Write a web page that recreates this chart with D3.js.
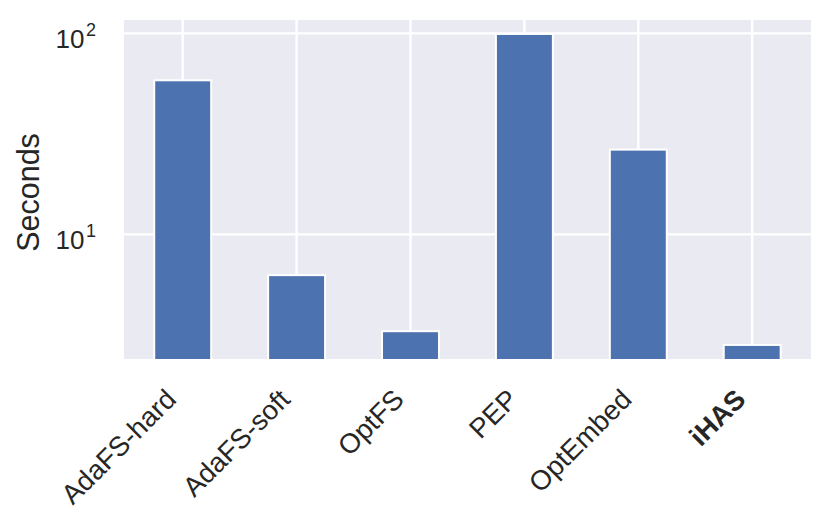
<!DOCTYPE html>
<html>
<head>
<meta charset="utf-8">
<script src="https://cdn.jsdelivr.net/npm/d3@7"></script>
<style>
  html, body { margin: 0; padding: 0; background: #ffffff; }
  svg { display: block; }
  text { font-family: "Liberation Sans", Arial, Helvetica, sans-serif; fill: #262626; }
</style>
</head>
<body>
<svg id="chart" width="830" height="524"></svg>
<script>
// ---- data ----
const categories = ["AdaFS-hard", "AdaFS-soft", "OptFS", "PEP", "OptEmbed", "iHAS"];
const seconds = [58.4, 6.27, 3.30, 99.3, 26.4, 2.82];
const boldCategories = ["iHAS"];
const yTickValues = [10, 100];
const yTickExponents = ["1", "2"];
const yLabel = "Seconds";
const yDomain = [2.40, 116.5];

// ---- layout ----
const W = 830, H = 524;
const plot = { left: 124, right: 811, top: 20, bottom: 359 };
const svg = d3.select("#chart");

const x = d3.scaleBand().domain(categories).range([125.75, 809.15]).paddingInner(0).paddingOuter(0);
const y = d3.scaleLog().domain(yDomain).range([plot.bottom, plot.top]);

// background
svg.append("rect")
  .attr("x", plot.left).attr("y", plot.top)
  .attr("width", plot.right - plot.left).attr("height", plot.bottom - plot.top)
  .attr("fill", "#eaeaf2");

svg.append("clipPath").attr("id", "clip")
  .append("rect")
  .attr("x", plot.left).attr("y", plot.top)
  .attr("width", plot.right - plot.left).attr("height", plot.bottom - plot.top);

// grid
const grid = svg.append("g").attr("clip-path", "url(#clip)");
grid.selectAll("line.h").data(yTickValues).join("line")
  .attr("class", "h")
  .attr("x1", plot.left).attr("x2", plot.right)
  .attr("y1", d => y(d)).attr("y2", d => y(d))
  .attr("stroke", "#ffffff").attr("stroke-width", 2.2);
grid.selectAll("line.v").data(categories).join("line")
  .attr("class", "v")
  .attr("x1", d => x(d) + x.bandwidth() / 2).attr("x2", d => x(d) + x.bandwidth() / 2)
  .attr("y1", plot.top).attr("y2", plot.bottom)
  .attr("stroke", "#ffffff").attr("stroke-width", 2.4);

// bars
const barW = x.bandwidth() * 0.5;
svg.append("g").attr("clip-path", "url(#clip)")
  .selectAll("rect").data(categories).join("rect")
  .attr("x", d => x(d) + (x.bandwidth() - barW) / 2)
  .attr("y", (d, i) => y(seconds[i]))
  .attr("width", barW)
  .attr("height", (d, i) => plot.bottom + 5 - y(seconds[i]))
  .attr("fill", "#4c72b0")
  .attr("stroke", "#ffffff")
  .attr("stroke-width", 2);

// y tick labels (10^n)
const yAxis = d3.axisLeft(y).tickValues(yTickValues).tickSize(0).tickPadding(0).tickFormat(() => "");
const yg = svg.append("g").attr("transform", `translate(${plot.left},0)`).call(yAxis);
yg.select(".domain").remove();
yg.selectAll(".tick").each(function(d, i) {
  const g = d3.select(this);
  g.select("text").remove();
  const t = g.append("text")
    .attr("x", -28).attr("y", 14.5)
    .attr("text-anchor", "end")
    .style("font-size", "26px");
  t.append("tspan").text("10");
  t.append("tspan").text(yTickExponents[i])
    .attr("dx", 1.5)
    .attr("dy", -12)
    .style("font-size", "18px");
});

// x tick labels
const xAxis = d3.axisBottom(x).tickSize(0).tickPadding(0);
const xg = svg.append("g").attr("transform", `translate(0,${plot.bottom})`).call(xAxis);
xg.select(".domain").remove();
xg.selectAll(".tick text")
  .attr("y", 0).attr("dy", 0)
  .attr("text-anchor", "end")
  .attr("transform", "translate(-5,42) rotate(-45)")
  .style("font-size", "27.5px")
  .style("font-family", "'Liberation Sans', Arial, sans-serif")
  .style("fill", "#262626")
  .style("font-weight", d => boldCategories.includes(d) ? "bold" : "normal");

// y label
svg.append("text")
  .attr("transform", `translate(39,${(plot.top + plot.bottom) / 2 + 3}) rotate(-90)`)
  .attr("text-anchor", "middle")
  .style("font-size", "30.5px")
  .text(yLabel);
</script>
</body>
</html>
